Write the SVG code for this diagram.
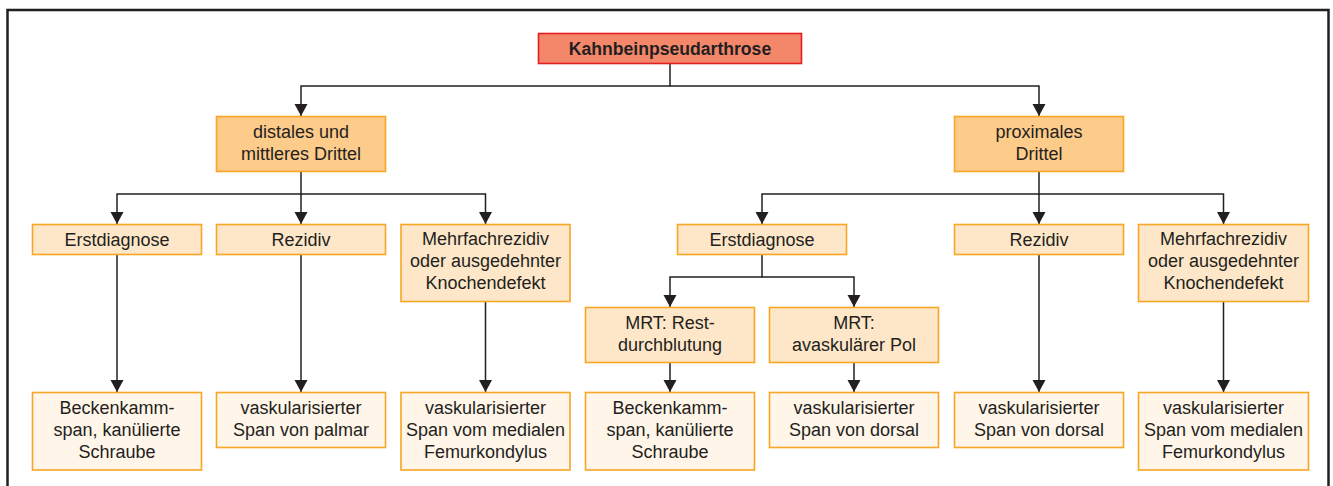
<svg xmlns="http://www.w3.org/2000/svg" width="1333" height="486" viewBox="0 0 1333 486">
<style>
  .frame{fill:none;stroke:#231f20;stroke-width:2.5}
  .box{stroke:#f8a623;stroke-width:1.6}
  .root{fill:#f4866a;stroke:#e31e24;stroke-width:1.6}
  .l1{fill:#fdcb8a}
  .l2{fill:#fee7c8}
  .l3{fill:#fff5e9}
  text{font-family:"Liberation Sans",Arial,sans-serif;font-size:18px;fill:#231f20;text-anchor:middle}
  .bold{font-weight:bold;font-size:17.6px}
  .conn path{fill:none;stroke:#231f20;stroke-width:1.5}
</style>
<defs>
  <marker id="arr" markerUnits="userSpaceOnUse" markerWidth="14" markerHeight="14" refX="12" refY="6.5" orient="auto" viewBox="0 0 14 14">
    <path d="M0,0 L12,6.5 L0,13 z" fill="#231f20"/>
  </marker>
</defs>
<rect width="1333" height="486" fill="#ffffff"/>
<rect class="frame" x="7.5" y="10" width="1321" height="500"/>

<g class="conn">
  <path d="M670,63.5 V86 H301 V116" marker-end="url(#arr)"/>
  <path d="M670,86 H1039 V116" marker-end="url(#arr)"/>
  <path d="M301,171.5 V194 H117 V224" marker-end="url(#arr)"/>
  <path d="M301,194 V224" marker-end="url(#arr)"/>
  <path d="M301,194 H485.5 V224" marker-end="url(#arr)"/>
  <path d="M1039,171.5 V194 H762 V224" marker-end="url(#arr)"/>
  <path d="M1039,194 V224" marker-end="url(#arr)"/>
  <path d="M1039,194 H1223.5 V224" marker-end="url(#arr)"/>
  <path d="M117,254.5 V392" marker-end="url(#arr)"/>
  <path d="M301,254.5 V392" marker-end="url(#arr)"/>
  <path d="M485.5,301.5 V392" marker-end="url(#arr)"/>
  <path d="M762,254.5 V277 H670 V307" marker-end="url(#arr)"/>
  <path d="M762,277 H854 V307" marker-end="url(#arr)"/>
  <path d="M670,362.5 V392" marker-end="url(#arr)"/>
  <path d="M854,362.5 V392" marker-end="url(#arr)"/>
  <path d="M1039,254.5 V392" marker-end="url(#arr)"/>
  <path d="M1223.5,301.5 V392" marker-end="url(#arr)"/>
</g>

<g id="root">
  <rect class="root" x="538.5" y="33.5" width="263" height="30"/>
  <text class="bold" x="670" y="54.5">Kahnbeinpseudarthrose</text>
</g>

<g id="distal">
  <rect class="box l1" x="216.5" y="116.5" width="169" height="55"/>
  <text x="301" y="138">distales und</text>
  <text x="301" y="160">mittleres Drittel</text>
</g>
<g id="proximal">
  <rect class="box l1" x="954.5" y="116.5" width="169" height="55"/>
  <text x="1039" y="138">proximales</text>
  <text x="1039" y="160">Drittel</text>
</g>

<g id="d-erst">
  <rect class="box l2" x="32.5" y="224.5" width="169" height="30"/>
  <text x="117" y="245.5">Erstdiagnose</text>
</g>
<g id="d-rez">
  <rect class="box l2" x="216.5" y="224.5" width="169" height="30"/>
  <text x="301" y="245.5">Rezidiv</text>
</g>
<g id="d-mehr">
  <rect class="box l2" x="401" y="224.5" width="169" height="77"/>
  <text x="485.5" y="245">Mehrfachrezidiv</text>
  <text x="485.5" y="267">oder ausgedehnter</text>
  <text x="485.5" y="289">Knochendefekt</text>
</g>

<g id="p-erst">
  <rect class="box l2" x="677.5" y="224.5" width="169" height="30"/>
  <text x="762" y="245.5">Erstdiagnose</text>
</g>
<g id="p-rez">
  <rect class="box l2" x="954.5" y="224.5" width="169" height="30"/>
  <text x="1039" y="245.5">Rezidiv</text>
</g>
<g id="p-mehr">
  <rect class="box l2" x="1138.5" y="224.5" width="170" height="77"/>
  <text x="1223.5" y="245">Mehrfachrezidiv</text>
  <text x="1223.5" y="267">oder ausgedehnter</text>
  <text x="1223.5" y="289">Knochendefekt</text>
</g>

<g id="mrt-rest">
  <rect class="box l2" x="585.5" y="307.5" width="169" height="55"/>
  <text x="670" y="329">MRT: Rest-</text>
  <text x="670" y="351">durchblutung</text>
</g>
<g id="mrt-avask">
  <rect class="box l2" x="769.5" y="307.5" width="169" height="55"/>
  <text x="854" y="329">MRT:</text>
  <text x="854" y="351">avaskulärer Pol</text>
</g>

<g id="r-becken1">
  <rect class="box l3" x="32.5" y="392.5" width="169" height="77.5"/>
  <text x="117" y="414">Beckenkamm-</text>
  <text x="117" y="436">span, kanülierte</text>
  <text x="117" y="458">Schraube</text>
</g>
<g id="r-palmar">
  <rect class="box l3" x="216.5" y="392.5" width="169" height="55"/>
  <text x="301" y="414">vaskularisierter</text>
  <text x="301" y="436">Span von palmar</text>
</g>
<g id="r-femur1">
  <rect class="box l3" x="401" y="392.5" width="169" height="77.5"/>
  <text x="485.5" y="414">vaskularisierter</text>
  <text x="485.5" y="436">Span vom medialen</text>
  <text x="485.5" y="458">Femurkondylus</text>
</g>
<g id="r-becken2">
  <rect class="box l3" x="585.5" y="392.5" width="169" height="77.5"/>
  <text x="670" y="414">Beckenkamm-</text>
  <text x="670" y="436">span, kanülierte</text>
  <text x="670" y="458">Schraube</text>
</g>
<g id="r-dorsal1">
  <rect class="box l3" x="769.5" y="392.5" width="169" height="55"/>
  <text x="854" y="414">vaskularisierter</text>
  <text x="854" y="436">Span von dorsal</text>
</g>
<g id="r-dorsal2">
  <rect class="box l3" x="954.5" y="392.5" width="169" height="55"/>
  <text x="1039" y="414">vaskularisierter</text>
  <text x="1039" y="436">Span von dorsal</text>
</g>
<g id="r-femur2">
  <rect class="box l3" x="1138.5" y="392.5" width="170" height="77.5"/>
  <text x="1223.5" y="414">vaskularisierter</text>
  <text x="1223.5" y="436">Span vom medialen</text>
  <text x="1223.5" y="458">Femurkondylus</text>
</g>
</svg>
